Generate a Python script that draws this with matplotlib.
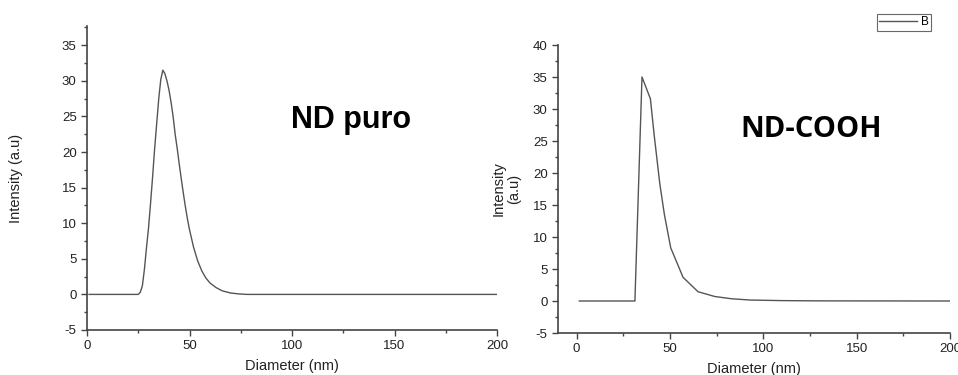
import numpy as np
import matplotlib
matplotlib.use('Agg')
import matplotlib.pyplot as plt
from matplotlib.ticker import MultipleLocator

plt.rcParams['font.family'] = ['Liberation Sans', 'DejaVu Sans']
plt.rcParams['axes.unicode_minus'] = False

# ND puro
puro_d = [1, 25, 26, 27, 28, 29, 30, 31, 32, 33, 34, 35, 36, 37, 38, 39, 40, 41, 42,
          43, 44, 45, 46, 47, 48, 49, 50, 52, 54, 56, 58, 60, 63, 66, 70, 74, 78, 200]
puro_i = [0, 0, 0.3, 1.2, 3.5, 6.5, 9.3, 12.8, 16.5, 20.5, 24.0, 27.5, 30.2, 31.5, 31.0,
          30.0, 28.7, 27.0, 25.0, 22.5, 20.5, 18.3, 16.2, 14.2, 12.3, 10.6, 9.1, 6.6,
          4.7, 3.3, 2.3, 1.6, 0.95, 0.5, 0.2, 0.07, 0, 0]

# ND-COOH
cooh_d = [1.4, 31.2, 35.0, 39.5, 41.5, 44.5, 47, 50.4, 57, 65, 74, 83, 93, 110, 130, 200]
cooh_i = [0, 0, 35.0, 31.6, 26.0, 18.4, 13.5, 8.3, 3.7, 1.45, 0.7, 0.35, 0.15, 0.06, 0.02, 0]

line_col = '#555555'
axis_col = '#444444'
text_col = '#222222'

fig = plt.figure(figsize=(9.58, 3.75), dpi=100)
ax1 = fig.add_axes([87/958, 1-330/375, (497-87)/958, (330-26)/375])
ax2 = fig.add_axes([558/958, 1-333/375, (950-558)/958, (333-45)/375])


def style(ax):
    for s in ['top', 'right']:
        ax.spines[s].set_visible(False)
    for s in ['left', 'bottom']:
        ax.spines[s].set_color(axis_col)
        ax.spines[s].set_linewidth(1.2)
    ax.xaxis.set_major_locator(MultipleLocator(50))
    ax.xaxis.set_minor_locator(MultipleLocator(25))
    ax.yaxis.set_major_locator(MultipleLocator(5))
    ax.yaxis.set_minor_locator(MultipleLocator(2.5))
    ax.tick_params(which='major', length=4, width=1, color=axis_col, labelsize=9.5,
                   labelcolor=text_col, direction='out')
    ax.tick_params(which='minor', length=2.5, width=1, color=axis_col)
    ax.set_xlabel('Diameter (nm)', fontsize=10.5, color=text_col, labelpad=5)


ax1.plot(puro_d, puro_i, color=line_col, lw=1)
style(ax1)
ax1.set_xlim(0, 200)
ax1.set_ylim(-5, 37.7)
ax1.set_ylabel('Intensity (a.u)', fontsize=10.5, color=text_col, labelpad=28)
ax1.text(0.497, 0.665, 'ND puro', transform=ax1.transAxes, fontsize=22,
         fontweight='bold', color='black')

ln, = ax2.plot(cooh_d, cooh_i, color=line_col, lw=1, label='B')
style(ax2)
ax2.set_xlim(-10, 200)
ax2.set_ylim(-5, 40)
ax2.set_ylabel('Intensity\n(a.u)', fontsize=10.5, color=text_col, labelpad=8)
ax2.text(0.465, 0.68, 'ND-COOH', transform=ax2.transAxes, fontsize=21,
         fontweight='bold', color='black', family=['Open Sans', 'DejaVu Sans'])

leg = fig.legend(handles=[ln], loc='upper right', bbox_to_anchor=(931/958, 1-14/375),
                 fontsize=8.5, frameon=True, fancybox=False, handlelength=3.2,
                 borderpad=0.2, handletextpad=0.3, borderaxespad=0)
leg.get_frame().set_edgecolor(axis_col)
leg.get_frame().set_linewidth(0.8)

fig.savefig('out.png', dpi=100)
